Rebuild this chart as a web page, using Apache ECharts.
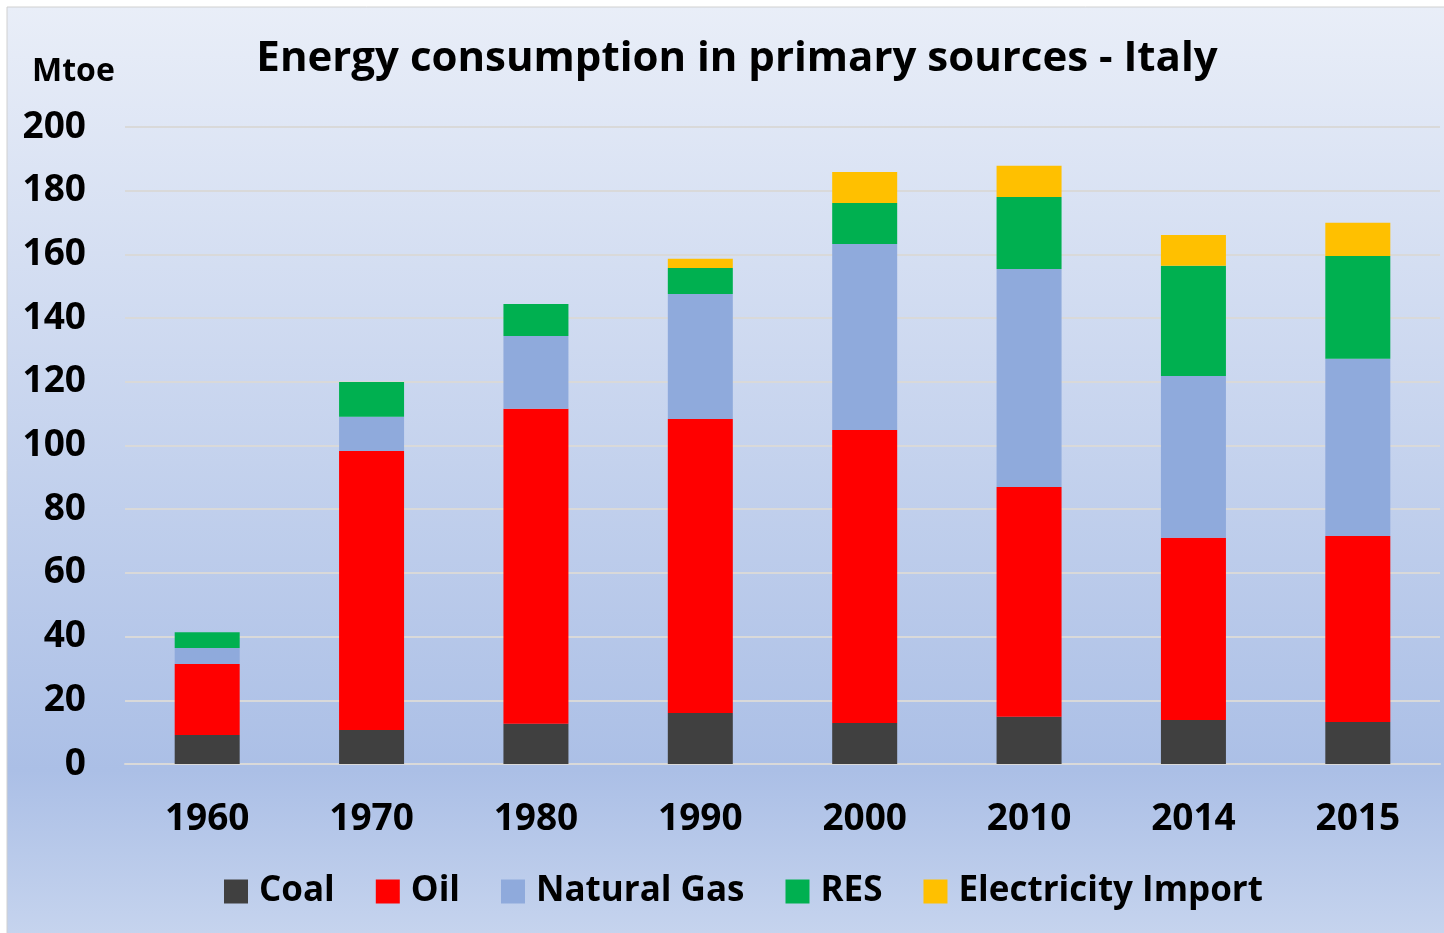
<!DOCTYPE html>
<html>
<head>
<meta charset="utf-8">
<script src="https://cdn.jsdelivr.net/npm/echarts@6/dist/echarts.min.js"></script>
<style>
  html, body { margin: 0; padding: 0; background: #fff; }
  #main { width: 1444px; height: 933px; }
</style>
</head>
<body>
<div id="main"></div>
<script>
// data (Mtoe)
var years = ['1960', '1970', '1980', '1990', '2000', '2010', '2014', '2015'];
var coal = [9.1, 10.7, 12.6, 16.0, 12.9, 14.8, 13.8, 13.2];
var oil = [22.3, 87.6, 98.9, 92.3, 92.0, 72.2, 57.2, 58.4];
var gas = [5.0, 10.7, 22.9, 39.3, 58.4, 68.4, 50.8, 55.6];
var res = [5.0, 10.9, 10.0, 8.1, 12.8, 22.6, 34.6, 32.3];
var elecImport = [0, 0, 0, 2.9, 9.8, 9.8, 9.7, 10.4];
var yTicks = [0, 200, 20];

var font = 'Open Sans';

function bar(name, data, color) {
    return {
        name: name,
        type: 'bar',
        stack: 'total',
        barWidth: 65,
        data: data,
        itemStyle: { color: color },
        emphasis: { disabled: true }
    };
}

var myChart = echarts.init(document.getElementById('main'));
var option = {
    animation: false,
    textStyle: { fontFamily: font },
    graphic: [{
        type: 'rect',
        z: -10,
        silent: true,
        shape: { x: 7, y: 7, width: 1440, height: 930 },
        style: {
            stroke: '#d0d0d0',
            lineWidth: 1,
            fill: new echarts.graphic.LinearGradient(0, 0, 0, 1, [
                { offset: 0, color: '#e9eef8' },
                { offset: 0.82, color: '#abbfe6' },
                { offset: 1, color: '#c6d4ee' }
            ])
        }
    }],
    title: [{
        text: 'Energy consumption in primary sources - Italy',
        left: 732,
        textAlign: 'center',
        top: 33,
        textStyle: { fontFamily: font, fontSize: 42, fontWeight: 'bold', color: '#000' }
    }, {
        text: 'Mtoe',
        left: 27,
        top: 51,
        textStyle: { fontFamily: font, fontSize: 32, fontWeight: 'bold', color: '#000' }
    }],
    legend: {
        top: 869,
        left: 219,
        itemWidth: 24,
        itemHeight: 24,
        itemGap: 41,
        icon: 'rect',
        textStyle: { fontFamily: font, fontSize: 35, fontWeight: 'bold', color: '#000', padding: [0, 0, 0, 6] },
        data: ['Coal', 'Oil', 'Natural Gas', 'RES', 'Electricity Import']
    },
    grid: { left: 125, right: 4, top: 127, bottom: 169, containLabel: false },
    xAxis: {
        type: 'category',
        data: years,
        axisTick: { show: false },
        axisLine: { lineStyle: { color: '#d9d9d9', width: 2 } },
        axisLabel: { margin: 37, fontFamily: font, fontSize: 37, fontWeight: 'bold', color: '#000' }
    },
    yAxis: {
        type: 'value',
        min: yTicks[0],
        max: yTicks[1],
        interval: yTicks[2],
        axisLine: { show: false },
        axisTick: { show: false },
        splitLine: { lineStyle: { color: '#d9d9d9', width: 2 } },
        axisLabel: { margin: 39, fontFamily: font, fontSize: 37, fontWeight: 'bold', color: '#000' }
    },
    series: [
        bar('Coal', coal, '#404040'),
        bar('Oil', oil, '#ff0000'),
        bar('Natural Gas', gas, '#8faadc'),
        bar('RES', res, '#00b050'),
        bar('Electricity Import', elecImport, '#ffc000')
    ]
};
myChart.setOption(option);
</script>
</body>
</html>
